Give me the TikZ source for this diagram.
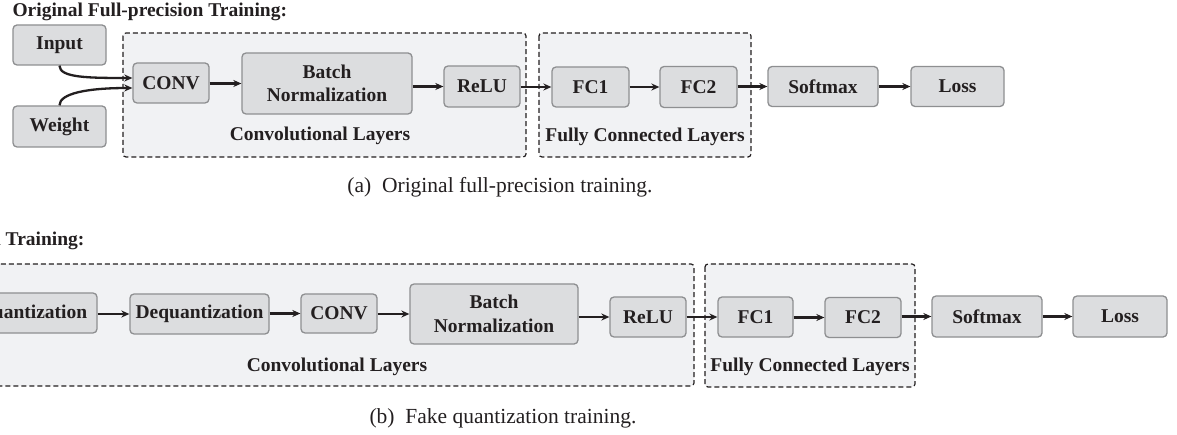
\documentclass[tikz,border=0pt]{standalone}
\usepackage{fontspec}
\setmainfont{Liberation Serif}
\usepackage{tikz}
\usetikzlibrary{arrows.meta,positioning}
\definecolor{boxfill}{HTML}{DCDDDF}
\definecolor{boxline}{HTML}{8E8F91}
\definecolor{grpfill}{HTML}{F1F2F4}
\definecolor{ink}{HTML}{231F20}

\begin{document}
\begin{tikzpicture}[x=1pt,y=1pt,
  font=\fontsize{19.5}{23.5}\selectfont\bfseries,text=ink,
  blk/.style={draw=boxline,fill=boxfill,line width=1.3pt,rounded corners=4pt,inner sep=0pt,align=center},
  grp/.style={draw=ink,fill=grpfill,line width=1.2pt,dash pattern=on 5pt off 3pt,rounded corners=3pt},
  arr/.style={draw=ink,line width=2.3pt,-{Stealth[length=8pt,width=7pt]}},
  captxt/.style={font=\fontsize{21.5}{24}\selectfont,text=ink}]
\useasboundingbox (0,0) rectangle (1177,-435);
% (a) original full-precision training
\node[anchor=base west] (ttla) at (9,-17) {Original Full-precision Training:};
\fill[grp] (123,-33) rectangle (526,-157);
\fill[grp] (539,-33) rectangle (751,-157);
\node (cla) at (320,-136) {Convolutional Layers};
\node (fla) at (645,-137) {Fully Connected Layers};
\node[blk,minimum width=93pt,minimum height=40pt] (in) at (59.5,-45) {Input};
\node[blk,minimum width=93pt,minimum height=41pt] (wt) at (59.5,-126.5) {Weight};
\node[blk,minimum width=76pt,minimum height=40pt] (conva) at (171,-83) {CONV};
\node[blk,minimum width=170pt,minimum height=61pt] (bna) at (327,-83.5) {Batch\\Normalization};
\node[blk,minimum width=76pt,minimum height=41pt] (relua) at (482,-86.5) {ReLU};
\node[blk,minimum width=77pt,minimum height=40pt] (fca) at (590.5,-87) {FC1};
\node[blk,minimum width=77pt,minimum height=41pt] (fcb) at (698.5,-87) {FC2};
\node[blk,minimum width=110pt,minimum height=40pt] (sma) at (823,-86.5) {Softmax};
\node[blk,minimum width=93pt,minimum height=40pt] (lossa) at (957.5,-86.5) {Loss};
\coordinate (ina) at ([yshift=5pt]conva.west);
\coordinate (wta) at ([yshift=-5pt]conva.west);
\draw[arr] (in.south) .. controls +(0,-12) and +(-45,0) .. (ina);
\draw[arr] (wt.north) .. controls +(0,12) and +(-45,0) .. (wta);
\foreach \a/\b in {conva/bna,bna/relua,relua/fca,fca/fcb,fcb/sma,sma/lossa}
  \draw[arr] (\b.west -| \a.east) -- (\b.west);
\node[captxt] (capa) at (500,-187) {(a)\enspace Original full-precision training.};
% (b) fake quantization training
\node[anchor=base east] (ttlb) at (88,-246) {Fake Quantization Training:};
\fill[grp] (-45,-264) rectangle (694,-386);
\fill[grp] (705,-264) rectangle (915,-387);
\node (clb) at (337,-367) {Convolutional Layers};
\node (flb) at (810,-367) {Fully Connected Layers};
\node[blk,minimum width=129pt,minimum height=40pt] (qb) at (32.5,-313) {Quantization};
\node[blk,minimum width=139pt,minimum height=40pt] (dqb) at (199.5,-314) {Dequantization};
\node[blk,minimum width=76pt,minimum height=39pt] (convb) at (339,-313.5) {CONV};
\node[blk,minimum width=168pt,minimum height=60pt] (bnb) at (494,-314) {Batch\\Normalization};
\node[blk,minimum width=76pt,minimum height=40pt] (relub) at (648,-317) {ReLU};
\node[blk,minimum width=75pt,minimum height=40pt] (fcc) at (755.5,-317) {FC1};
\node[blk,minimum width=76pt,minimum height=40pt] (fcd) at (863,-317.5) {FC2};
\node[blk,minimum width=110pt,minimum height=41pt] (smb) at (987,-316.5) {Softmax};
\node[blk,minimum width=94pt,minimum height=41pt] (lossb) at (1120,-316.5) {Loss};
\foreach \a/\b in {qb/dqb,dqb/convb,convb/bnb,bnb/relub,relub/fcc,fcc/fcd,fcd/smb,smb/lossb}
  \draw[arr] (\b.west -| \a.east) -- (\b.west);
\node[captxt] (capb) at (503,-418) {(b)\enspace Fake quantization training.};
\end{tikzpicture}
\end{document}
